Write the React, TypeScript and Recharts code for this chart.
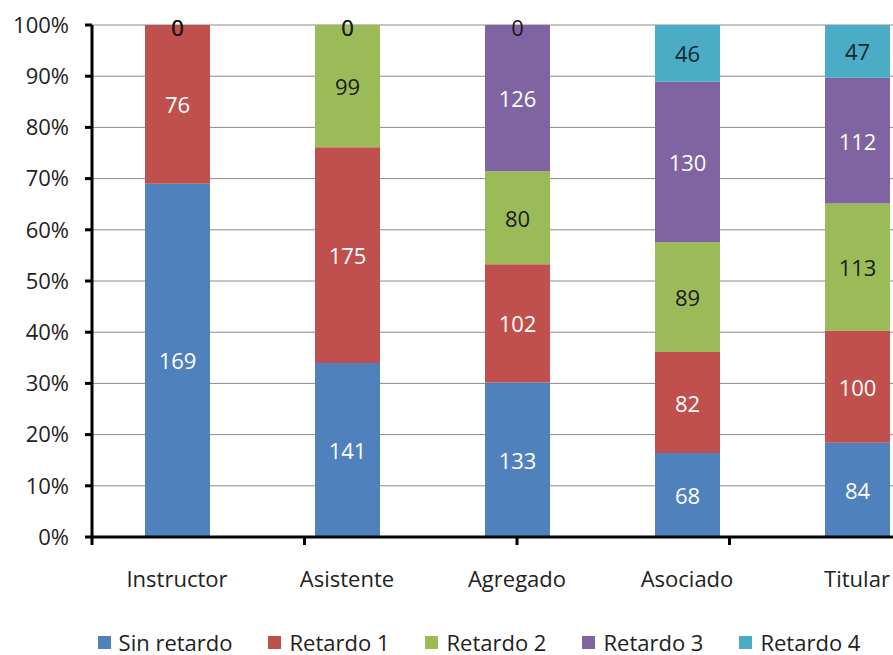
import { BarChart, Bar, XAxis, YAxis, CartesianGrid, Legend, LabelList } from 'recharts'

const categories = ['Instructor', 'Asistente', 'Agregado', 'Asociado', 'Titular']
const sinRetardo = [169, 141, 133, 68, 84]
const retardo1 = [76, 175, 102, 82, 100]
const retardo2 = [0, 99, 80, 89, 113]
const retardo3 = [0, 0, 126, 130, 112]
const retardo4 = [0, 0, 0, 46, 47]
const yTicks = [0, 0.1, 0.2, 0.3, 0.4, 0.5, 0.6, 0.7, 0.8, 0.9, 1]
const bandTicks = [0, 1, 2, 3, 4, 5]

const data = categories.map((name, i) => ({
    name,
    sin: sinRetardo[i],
    r1: retardo1[i],
    r2: retardo2[i],
    r3: retardo3[i],
    r4: retardo4[i],
}))

const series = [
    { key: 'sin', name: 'Sin retardo', color: '#4F81BD', label: '#ffffff' },
    { key: 'r1', name: 'Retardo 1', color: '#C0504D', label: '#ffffff' },
    { key: 'r2', name: 'Retardo 2', color: '#9BBB59', label: '#1a1a1a' },
    { key: 'r3', name: 'Retardo 3', color: '#8064A2', label: '#ffffff' },
    { key: 'r4', name: 'Retardo 4', color: '#4BACC6', label: '#1a2630' },
]

const font = '"Open Sans", sans-serif'
const order = series.map((s) => s.name)

function renderLegend(props: any) {
    const payload = [...(props.payload || [])].sort(
        (a: any, b: any) => order.indexOf(a.value) - order.indexOf(b.value)
    )
    return (
        <div style={{ display: 'flex', justifyContent: 'center', paddingLeft: 52, fontFamily: font, fontSize: 22, color: '#222', lineHeight: '24px' }}>
            {payload.map((entry: any) => (
                <div key={entry.value} style={{ display: 'flex', alignItems: 'center', marginRight: 36 }}>
                    <span style={{ width: 13, height: 13, background: entry.color, marginRight: 8, display: 'inline-block' }} />
                    <span>{entry.value}</span>
                </div>
            ))}
        </div>
    )
}

// label text is "value|zeros": zeros are the zero-valued segments stacked right
// above this one, which recharts skips, so their "0" is drawn at this top edge
function labelValue(si: number) {
    return (row: any) => {
        const zeros: number[] = []
        for (let j = si + 1; j < series.length; j++) {
            if (row[series[j].key] !== 0) break
            zeros.push(row[series[j].key])
        }
        return `${row[series[si].key]}|${zeros.join(',')}`
    }
}

function makeLabel(si: number) {
    const s = series[si]
    return (p: any) => {
        const { x, y, width, height, value } = p
        if (value == null) return null
        const [v, z] = String(value).split('|')
        if (v === '0' || v === '') return null
        const zeros = z ? z.split(',') : []
        const cx = Number(x) + Number(width) / 2
        return (
            <g>
                <text
                    x={cx}
                    y={Number(y) + Number(height) / 2}
                    textAnchor="middle"
                    dominantBaseline="central"
                    fill={s.label}
                    fontSize={22}
                    fontFamily={font}
                >
                    {v}
                </text>
                {zeros.map((zv, j) => (
                    <text
                        key={j}
                        x={cx}
                        y={Number(y) + 2}
                        textAnchor="middle"
                        dominantBaseline="central"
                        fill="#1a1a1a"
                        fontSize={22}
                        fontFamily={font}
                    >
                        {zv}
                    </text>
                ))}
            </g>
        )
    }
}

export default function App() {
    return (
        <div style={{ position: 'absolute', left: 0, top: 0, width: 893, height: 655, overflow: 'hidden', background: '#fff' }}>
            <BarChart
                width={970}
                height={656}
                data={data}
                stackOffset="expand"
                margin={{ top: 25, right: 28, left: 0, bottom: 0 }}
            >
                <CartesianGrid vertical={false} stroke="#8a8a8a" strokeWidth={1} />
                <XAxis
                    xAxisId="band"
                    type="number"
                    scale="linear"
                    domain={[0, 5]}
                    allowDataOverflow
                    ticks={bandTicks}
                    interval={0}
                    height={1}
                    stroke="#000"
                    strokeWidth={3}
                    tickSize={8}
                    tickFormatter={() => ''}
                    tickLine={{ stroke: '#000', strokeWidth: 3 }}
                />
                <XAxis
                    xAxisId="cat"
                    dataKey="name"
                    axisLine={false}
                    tickLine={false}
                    height={92}
                    tickMargin={27}
                    tick={{ fill: '#222', fontSize: 22, fontFamily: font }}
                />
                <YAxis
                    width={92}
                    domain={[0, 1]}
                    ticks={yTicks}
                    interval={0}
                    tickFormatter={(v: number) => `${Math.round(v * 100)}%`}
                    stroke="#000"
                    strokeWidth={3}
                    tickSize={7}
                    tickMargin={16}
                    tick={{ fill: '#222', fontSize: 22, fontFamily: font }}
                />
                <Legend verticalAlign="bottom" content={renderLegend} wrapperStyle={{ height: 26 }} />
                {series.map((s, si) => (
                    <Bar
                        key={s.key}
                        xAxisId="cat"
                        dataKey={s.key}
                        name={s.name}
                        stackId="a"
                        fill={s.color}
                        barSize={65}
                        isAnimationActive={false}
                    >
                        <LabelList dataKey={labelValue(si)} content={makeLabel(si)} />
                    </Bar>
                ))}
            </BarChart>
        </div>
    )
}
